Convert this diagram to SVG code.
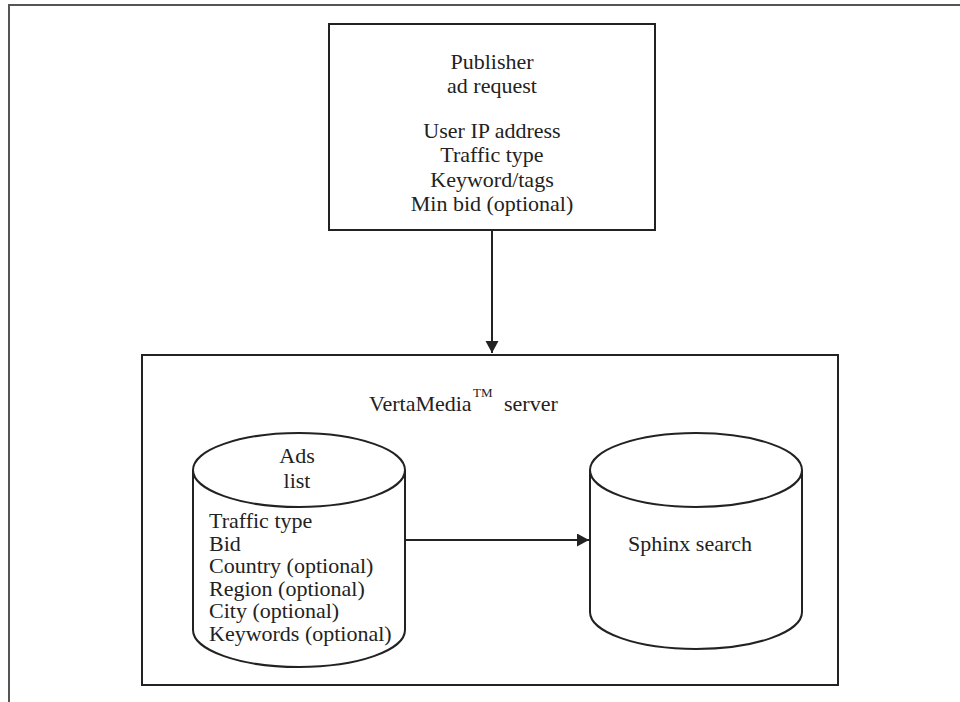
<svg xmlns="http://www.w3.org/2000/svg" width="960" height="702" viewBox="0 0 960 702">
<style>
.t{font-family:"Liberation Serif","Times New Roman",serif;font-size:22px;fill:#222}
.c{text-anchor:middle}
.s{fill:#fff;stroke:#222;stroke-width:2}
.ln{stroke:#222;stroke-width:2;fill:none}
</style>
<defs>
<marker id="ah" markerUnits="userSpaceOnUse" markerWidth="13" markerHeight="14" refX="12" refY="6.5" orient="auto">
<path d="M0,0 L12,6.5 L0,13 z" fill="#222"/>
</marker>
</defs>
<rect width="960" height="702" fill="#fff"/>
<g id="frame">
<path d="M9,702 V5 H960" fill="none" stroke="#555" stroke-width="2"/>
</g>
<g id="publisher">
<rect class="s" x="329" y="24" width="326" height="206"/>
<text class="t c" x="492" y="69">Publisher</text>
<text class="t c" x="492" y="93">ad request</text>
<text class="t c" x="492" y="138">User IP address</text>
<text class="t c" x="492" y="162">Traffic type</text>
<text class="t c" x="492" y="186.5">Keyword/tags</text>
<text class="t c" x="492" y="211">Min bid (optional)</text>
</g>
<g id="server">
<rect class="s" x="142" y="355" width="696" height="330"/>
<text class="t" x="369" y="411">VertaMedia</text>
<text class="t" x="473" y="397" style="font-size:13px">TM</text>
<text class="t" x="504" y="411">server</text>
</g>
<g id="adslist">
<path class="s" d="M193,470 V630 A106,37 0 0 0 405,630 V470"/>
<ellipse class="s" cx="299" cy="470" rx="106" ry="37"/>
<text class="t c" x="297" y="463">Ads</text>
<text class="t c" x="297" y="488">list</text>
<text class="t" x="209" y="528">Traffic type</text>
<text class="t" x="209" y="550.6">Bid</text>
<text class="t" x="209" y="573.2">Country (optional)</text>
<text class="t" x="209" y="595.8">Region (optional)</text>
<text class="t" x="209" y="618.4">City (optional)</text>
<text class="t" x="209" y="641">Keywords (optional)</text>
</g>
<g id="sphinx">
<path class="s" d="M590,470 V612 A106,37 0 0 0 802,612 V470"/>
<ellipse class="s" cx="696" cy="470" rx="106" ry="37"/>
<text class="t c" x="690" y="551">Sphinx search</text>
</g>
<g id="connectors">
<line class="ln" x1="492" y1="230" x2="492" y2="353" marker-end="url(#ah)"/>
<line class="ln" x1="405" y1="540" x2="589" y2="540" marker-end="url(#ah)"/>
</g>
</svg>
